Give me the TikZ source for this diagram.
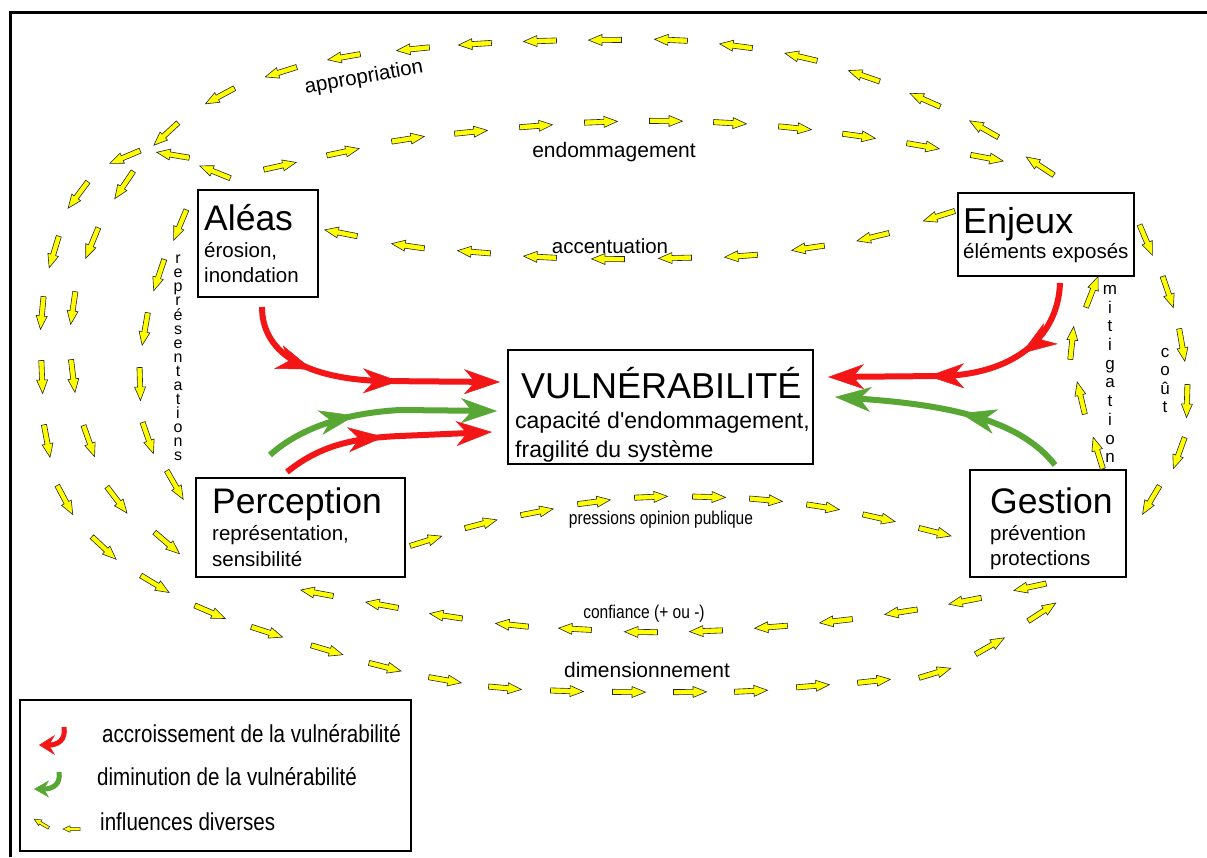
\documentclass[tikz,border=0pt]{standalone}
\usepackage{fontspec}
\setmainfont{Liberation Sans}
\newfontfamily\narrowfont[FakeStretch=0.84]{Liberation Sans}
\usetikzlibrary{decorations.markings,arrows.meta}
\definecolor{yel}{RGB}{255,255,0}
\definecolor{vred}{RGB}{242,22,22}
\definecolor{vgreen}{RGB}{88,166,52}
\newcommand\fsz[1]{\fontsize{#1}{#1}\selectfont}
\newcommand\fszb[2]{\fontsize{#1}{#2}\selectfont}
\newcommand\yarrowdraw{\filldraw[fill=yel,draw=black!85,line width=0.6pt] (-16.5pt,-2.6pt) -- (3pt,-2.6pt) -- (3pt,-5.5pt) -- (16.5pt,0pt) -- (3pt,5.5pt) -- (3pt,2.6pt) -- (-16.5pt,2.6pt) -- cycle;}
\newcommand\yarrowsmall{\filldraw[fill=yel,draw=black!85,line width=0.5pt] (-8.5pt,-1.5pt) -- (1.5pt,-1.5pt) -- (1.5pt,-3.3pt) -- (8.5pt,0pt) -- (1.5pt,3.3pt) -- (1.5pt,1.5pt) -- (-8.5pt,1.5pt) -- cycle;}
% chain of small yellow arrows: #1 x-array, #2 y-array, #3 last index
\newcommand\ychainxy[3]{%
  \foreach \i in {0,...,#3}{%
    \pgfmathtruncatemacro\ip{min(\i+1,#3)}%
    \pgfmathtruncatemacro\im{max(\i-1,0)}%
    \pgfmathsetmacro\cx{#1[\i]}%
    \pgfmathsetmacro\cy{#2[\i]}%
    \pgfmathsetmacro\ang{atan2(#2[\im]-#2[\ip],#1[\ip]-#1[\im])}%
    \begin{scope}[shift={(\cx,\cy)}, rotate=\ang]\yarrowdraw\end{scope}%
  }%
}
\tikzset{
  box/.style={draw, line width=2.8pt, rectangle, inner sep=0pt},
  bighead/.tip={Stealth[length=36pt,width=25pt,inset=11pt,line width=0.5pt]},
  vularr/.style={line width=6pt, color=#1, -{bighead}},
  boxtxt/.style={anchor=base west, inner sep=0pt},
}
\begin{document}
\begin{tikzpicture}[x=1pt,y=-1pt]
\useasboundingbox (0,0) rectangle (1207,857);
\draw[line width=3pt] (10.5,857) -- (10.5,12) -- (1207,12);

% boxes
\node[box, minimum width=120pt, minimum height=107pt] (aleas) at (258,243.5) {};
\node[box, minimum width=176pt, minimum height=83pt] (enjeux) at (1046,234.5) {};
\node[box, minimum width=305pt, minimum height=114pt] (vuln) at (660.5,407) {};
\node[box, minimum width=209pt, minimum height=99pt] (perc) at (300.5,527.5) {};
\node[box, minimum width=156pt, minimum height=107pt] (gest) at (1048,523.5) {};
\node[box, minimum width=391pt, minimum height=151pt] (legend) at (215.5,775.5) {};

% box texts
\node[boxtxt, font=\fsz{35.5}] (aleasT) at (204,230) {Aléas};
\node[boxtxt, font=\fsz{20.5}] (aleasA) at (204,257) {érosion,};
\node[boxtxt, font=\fsz{20.5}] (aleasB) at (204,282) {inondation};
\node[boxtxt, font=\fsz{36}] (enjeuxT) at (963,233) {Enjeux};
\node[boxtxt, font=\fsz{20.5}] (enjeuxA) at (963,258) {éléments exposés};
\node[boxtxt, font=\fsz{36}] (vulnT) at (521,398) {VULNÉRABILITÉ};
\node[boxtxt, font=\fsz{23}] (vulnA) at (515,428) {capacité d\textquotesingle endommagement,};
\node[boxtxt, font=\fsz{23}] (vulnB) at (515,457) {fragilité du système};
\node[boxtxt, font=\fsz{35.5}] (percT) at (212,513) {Perception};
\node[boxtxt, font=\fsz{20.5}] (percA) at (212,540) {représentation,};
\node[boxtxt, font=\fsz{20.5}] (percB) at (212,566) {sensibilité};
\node[boxtxt, font=\fsz{35.5}] (gestT) at (990,513) {Gestion};
\node[boxtxt, font=\fsz{20.5}] (gestA) at (990,540) {prévention};
\node[boxtxt, font=\fsz{20.5}] (gestB) at (990,565) {protections};

% yellow arrow chains
% appropriation
\def\apx{{1040,984,925,864,801,736,671,605,540,475,413,344,281,220,166,124,92,73,73,89,117,167}}
\def\apy{{166,129,100,76,57,46,40,40,41,44,49,57,72,96,134,185,243,308,376,441,500,543}}
\ychainxy{\apx}{\apy}{21}
% dimensionnement
\def\dmx{{215,173,125,78,54,42,42,47,65,104,155,210,267,327,385,445,505,567,629,690,751,813,874,935,990,1042}}
\def\dmy{{172,155,157,195,252,313,377,441,500,548,584,612,632,650,667,680,688,691,692,692,691,686,681,673,646,612}}
\ychainxy{\dmx}{\dmy}{25}
% representations
\def\rpx{{180,159,145,140,148,175}}
\def\rpy{{225,275,329,384,438,485}}
\ychainxy{\rpx}{\rpy}{5}
% endommagement
\def\enx{{280,343,408,471,536,601,666,730,795,859,923,987}}
\def\eny{{166,152,139,132,126,122,121,123,128,136,146,158}}
\ychainxy{\enx}{\eny}{11}
% accentuation
\def\acx{{939,873,808,741,675,608,540,474,408,341}}
\def\acy{{216,237,248,256,258,259,257,252,246,233}}
\ychainxy{\acx}{\acy}{9}
% pressions opinion publique
\def\prx{{426,481,537,594,651,709,766,823,879,935}}
\def\pry{{541,524,512,502,497,497,500,507,518,532}}
\ychainxy{\prx}{\pry}{9}
% confiance
\def\cfx{{1030,965,901,836,771,706,641,575,512,446,382,317}}
\def\cfy{{587,601,612,621,627,631,632,629,625,616,605,593}}
\ychainxy{\cfx}{\cfy}{11}
% mitigation
\def\mtx{{1098,1081,1072,1092}}
\def\mty{{453,398,343,292}}
\ychainxy{\mtx}{\mty}{3}
% cout
\def\ctx{{1146,1168,1182,1187,1179,1151}}
\def\cty{{240,292,345,401,453,500}}
\ychainxy{\ctx}{\cty}{5}

% chain labels
\node[font=\fsz{20.5}, rotate=10] (lblapp) at (364,78) {appropriation};
\node[font=\fsz{21}] (lblend) at (614,152) {endommagement};
\node[font=\fsz{20.5}] (lblacc) at (610,246) {accentuation};
\node[font=\narrowfont\fsz{18.5}] (lblpres) at (661,520) {pressions opinion publique};
\node[font=\narrowfont\fsz{18.5}] (lblconf) at (644,614) {confiance (+ ou -)};
\node[font=\fsz{21}] (lbldim) at (647,670) {dimensionnement};
\node[align=center, inner sep=0pt, font={\fszb{16}{14.07}\lineskiplimit=-50pt}] (lblrep) at (178,358) {r\\e\\p\\r\\é\\s\\e\\n\\t\\a\\t\\i\\o\\n\\s};
\node[align=center, inner sep=0pt, font={\fszb{17}{18.7}\lineskiplimit=-50pt}] (lblmit) at (1110,374) {m\\i\\t\\i\\g\\a\\t\\i\\o\\n};
\node[align=center, inner sep=0pt, font={\fszb{17}{18.3}\lineskiplimit=-50pt}] (lblcout) at (1165,380.5) {c\\o\\û\\t};

% thick red / green arrows
\coordinate (r1s) at (262,307); \coordinate (r1e) at (500,382);
\draw[vularr=vred, postaction={decorate}, decoration={markings, mark=at position 86pt with {\arrow{bighead}}, mark=at position 174pt with {\arrow{bighead}}}]
  (r1s) .. controls (262,350) and (300,378) .. (380,381) -- (r1e);
\coordinate (g1s) at (270,455); \coordinate (g1e) at (497,411);
\draw[vularr=vgreen, postaction={decorate}, decoration={markings, mark=at position 95pt with {\arrow{bighead}}}]
  (g1s) .. controls (300,428) and (345,413) .. (400,410) -- (g1e);
\coordinate (r2s) at (287,472); \coordinate (r2e) at (492,432);
\draw[vularr=vred, postaction={decorate}, decoration={markings, mark=at position 105pt with {\arrow{bighead}}}]
  (r2s) .. controls (318,447) and (350,438) .. (400,436) -- (r2e);
\coordinate (r3s) at (1060,283); \coordinate (r3e) at (828,377);
\draw[vularr=vred, postaction={decorate}, decoration={markings, mark=at position 84pt with {\arrow{bighead}}, mark=at position 181pt with {\arrow{bighead}}}]
  (r3s) .. controls (1058,340) and (1010,375) .. (940,376) -- (r3e);
\coordinate (g2s) at (1055,465); \coordinate (g2e) at (835,397);
\draw[vularr=vgreen, postaction={decorate}, decoration={markings, mark=at position 110pt with {\arrow{bighead}}}]
  (g2s) .. controls (1020,420) and (950,405) .. (g2e);

% legend
\draw[vred, line width=5pt, -{Stealth[length=16pt,width=20pt,inset=6pt,line width=0.5pt]}] (64,727) .. controls (66,740) and (58,745) .. (39,745);
\draw[vgreen, line width=5pt, -{Stealth[length=15pt,width=17pt,inset=5pt,line width=0.5pt]}] (59,772) .. controls (61,784) and (53,789) .. (34,789);
\begin{scope}[shift={(41.5,823.5)}, rotate=149]\yarrowsmall\end{scope}
\begin{scope}[shift={(71.5,829)}, rotate=180]\yarrowsmall\end{scope}
\node[anchor=base west, inner sep=0pt, font=\narrowfont\fsz{24.5}] (leg1) at (102,742) {accroissement de la vulnérabilité};
\node[anchor=base west, inner sep=0pt, font=\narrowfont\fsz{24.5}] (leg2) at (97,785) {diminution de la vulnérabilité};
\node[anchor=base west, inner sep=0pt, font=\narrowfont\fsz{24.5}] (leg3) at (100,830) {influences diverses};
\end{tikzpicture}
\end{document}
